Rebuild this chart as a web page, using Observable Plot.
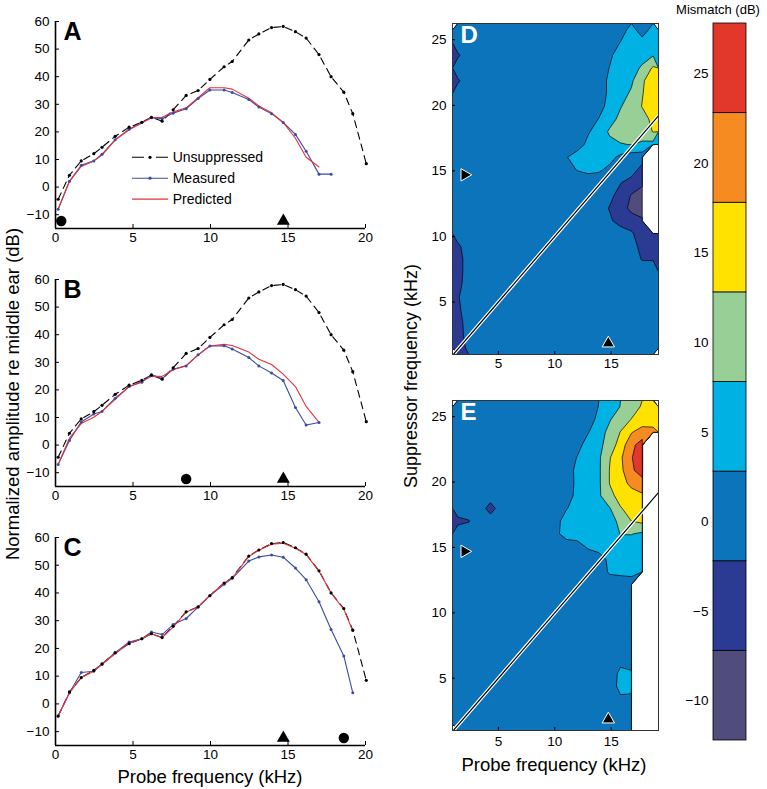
<!DOCTYPE html>
<html><head><meta charset="utf-8">
<script src="https://cdn.jsdelivr.net/npm/d3@7"></script>
<script src="https://cdn.jsdelivr.net/npm/@observablehq/plot@0.6"></script>
<style>
body{margin:0;background:#fff;}
#root{position:relative;width:767px;height:789px;font-family:"Liberation Sans",Arial,Helvetica,sans-serif;overflow:hidden;}
.lbl{position:absolute;white-space:nowrap;color:#000;}
</style></head><body><div id="root"></div>
<script>
const FONT = '"Liberation Sans", Arial, Helvetica, sans-serif';

// ---------- line panels (A, B, C) ----------
const probeFreq = [0.17, 0.9, 1.66, 2.47, 3.0, 3.85, 4.75, 5.57, 6.19, 6.88, 7.59, 8.43, 9.2, 9.96, 10.88, 11.4, 12.47, 13.12, 13.94, 14.69, 15.48, 16.17, 17.0, 17.78, 18.6, 19.18, 20.05];
const unsuppressed = [-4.4, 4.3, 9.5, 12.1, 14.4, 18.4, 21.7, 23.5, 25.3, 23.9, 28, 33.2, 35, 39, 43.6, 45.5, 53.3, 55.5, 57.8, 58.2, 56.3, 54, 48, 40, 34.4, 26.6, 8.5];
const measuredA = [-8, 2.1, 7.9, 9.5, 11.9, 17.2, 21, 23.4, 25.1, 24.8, 26.8, 28.4, 32.1, 35.2, 35.2, 34.3, 31.7, 29, 26.6, 23.4, 19.1, 13, 4.7, 4.7];
const predictedA = [-8, 2.1, 7.5, 9.5, 11.6, 17, 20.8, 23.2, 25.1, 25.3, 27.2, 28.7, 32.4, 36, 36, 35.5, 32.2, 29.4, 26.9, 23.4, 17.7, 10.8, 7.3];
const measuredB = [-7, 1.7, 8.4, 11.3, 12.2, 17, 21.2, 22.8, 25.6, 24.1, 27.5, 28.7, 32.7, 35.9, 36, 34.8, 31.7, 28.7, 26.1, 23.4, 13.6, 7.3, 8.2];
const predictedB = [-7, 2.5, 7.8, 10.1, 12.2, 16.6, 21.2, 23, 24.9, 24.9, 27.3, 28.8, 32.7, 35.9, 36.5, 36.1, 33.7, 31.1, 29.2, 25.7, 21.2, 14, 8.2];
const measuredC = [-4.4, 4, 11.3, 11.8, 14.3, 18.5, 22.3, 23.5, 25.9, 25, 28.6, 30.8, 34.9, 39.1, 43.1, 45.3, 51.5, 53, 53.7, 52.9, 49, 44.8, 36.8, 26.8, 17.3, 4];
const predictedC = [-4.4, 4, 9.5, 11.8, 14.3, 18.1, 21.9, 23.5, 25.3, 23.9, 27.7, 33.1, 34.9, 39.1, 43.6, 45.3, 53.2, 55.4, 57.6, 57.9, 56.1, 53.9, 47.8, 40, 34.1, 26.3];
const suppressorFreqs = [0.37, 8.43, 18.6];   // filled circles A, B, C
const probeMarkFreq = 14.7;                     // triangles
const markerLevel = -12.3;
const lineXTicks = [0, 5, 10, 15, 20];
const lineYTicks = [-10, 0, 10, 20, 30, 40, 50, 60];
const legendLabels = ["Unsuppressed", "Measured", "Predicted"];

// ---------- contour panels (D, E) ----------
// grid: 19 probe columns (0.93 .. 19.2 kHz), 26 suppressor rows listed top (26.2 kHz) to bottom (1 kHz)
const N = NaN;   // no data (drawn white)
const gridD = [
  [0,0,0,0,0,0,0,0,0,0,0,0,0,0,0,0,5,0,5],
  [0,0,0,0,0,0,0,0,0,0,0,0,0,0,0,3,5,5,6],
  [-2.7,0,0,0,0,0,0,0,0,0,0,0,0,0,2,5,5,6,7.5],
  [0,0,0,0,0,0,0,0,0,0,0,0,0,0,3,5,6,8.5,13.5],
  [-2.7,0,0,0,0,0,0,0,0,0,0,0,0,0,4,5,7,12,16],
  [0,0,0,0,0,0,0,0,0,0,0,0,0,0,4,6,8.5,12.5,16],
  [0,0,0,0,0,0,0,0,0,0,0,0,0,0.5,5,7.5,10,13,16],
  [0,0,0,0,0,0,0,0,0,0,0,0,0,3,6,9,11,11,14],
  [0,0,0,0,0,0,0,0,0,0,0,0,2.3,5,8.5,10,10,10,13],
  [0,0,0,0,0,0,0,0,0,0,0,0.5,4,5,6.5,7.5,8,7,6],
  [0,0,0,0,0,0,0,0,0,0,2.5,5,5,5,4.5,1.5,0,0,N],
  [0,0,0,0,0,0,0,0,0,0,1,3,4,3.5,1.5,0,0,-4,N],
  [0,0,0,0,0,0,0,0,0,0,0,0,0,0,0,-2,-4,-6,N],
  [0,0,0,0,0,0,0,0,0,0,0,0,0,0,-1,-4,-7.5,-10,N],
  [0,0,0,0,0,0,0,0,0,0,0,0,0,0,-2.5,-5,-8.5,-11,N],
  [0,0,0,0,0,0,0,0,0,0,0,0,0,0,-1.5,-4,-5,-6,N],
  [0,0,0,0,0,0,0,0,0,0,0,0,0,0,0,0,-1.5,-5,-4],
  [-3,0,0,0,0,0,0,0,0,0,0,0,0,0,0,0,0,-4,-4],
  [-4,0,0,0,0,0,0,0,0,0,0,0,0,0,0,0,0,-2.5,-2.5],
  [-4,0,0,0,0,0,0,0,0,0,0,0,0,0,0,0,0,0,0],
  [-3.5,0,0,0,0,0,0,0,0,0,0,0,0,0,0,0,0,0,0],
  [-2.5,0,0,0,0,0,0,0,0,0,0,0,0,0,0,0,0,0,0],
  [-3,0,0,0,0,0,0,0,0,0,0,0,0,0,0,0,0,0,0],
  [-4,0,0,0,0,0,0,0,0,0,0,0,0,0,0,0,0,0,0],
  [-4.5,0,0,0,0,0,0,0,0,0,0,0,0,0,0,0,0,0,0],
  [-5,-1,0,0,0,0,0,0,0,0,0,0,0,0,0,0,0,0,0]
];
const gridE = [
  [0,0,0,0,0,0,0,0,0,0,0,0,0,3,5,8,10,13.5,15],
  [0,0,0,0,0,0,0,0,0,0,0,0,0,4.5,7.5,10,13,15,16],
  [0,0,0,0,0,0,0,0,0,0,0,0,2.5,6,9,13,17.5,20,19],
  [0,0,0,0,0,0,0,0,0,0,0,1,5,6.5,10,15,21.5,25,N],
  [0,0,0,0,0,0,0,0,0,0,0,3,5,7,12.5,17,22.5,26,N],
  [0,0,0,0,0,0,0,0,0,0,0.5,4,5,7,13,16.5,22,25,N],
  [0,0,0,0,0,0,0,0,0,0,0,4,5,7,13,16,19,21,N],
  [0,0,0,0,0,0,0,0,0,0,0,4.5,5,7,11.5,14.5,16,17,N],
  [0,0,0,-4,0,0,0,0,0,0,2.5,5,5,5.5,7.5,12.5,14.5,15,N],
  [-3.2,-2.4,0,0,0,0,0,0,0,1,5,5,5,5,6,9,12.8,14,N],
  [0,0,0,0,0,0,0,0,0,1.5,5,5,5,5,5,8,8,7,N],
  [0,0,0,0,0,0,0,0,0,0,0,1,3.5,5,5,5.5,5.5,4.5,N],
  [0,0,0,0,0,0,0,0,0,0,0,0,0,0.5,4,5,5,4,N],
  [0,0,0,0,0,0,0,0,0,0,0,0,0,0,3.5,4,4.5,3,N],
  [0,0,0,0,0,0,0,0,0,0,0,0,0,0,0,0,0,N,N],
  [0,0,0,0,0,0,0,0,0,0,0,0,0,0,0,0,0,N,N],
  [0,0,0,0,0,0,0,0,0,0,0,0,0,0,0,0,0,N,N],
  [0,0,0,0,0,0,0,0,0,0,0,0,0,0,0,0,0,N,N],
  [0,0,0,0,0,0,0,0,0,0,0,0,0,0,0,0,0,N,N],
  [0,0,0,0,0,0,0,0,0,0,0,0,0,0,0,0,0,N,N],
  [0,0,0,0,0,0,0,0,0,0,0,0,0,0,0,1.5,0.5,N,N],
  [0,0,0,0,0,0,0,0,0,0,0,0,0,0,0,4,3.5,N,N],
  [0,0,0,0,0,0,0,0,0,0,0,0,0,0,0,4.5,4,N,N],
  [0,0,0,0,0,0,0,0,0,0,0,0,0,0,0,2,2,N,N],
  [0,0,0,0,0,0,0,0,0,0,0,0,0,0,0,0,0,N,N],
  [0,0,0,0,0,0,0,0,0,0,0,0,0,0,0,0,0,N,N]
];
const probeExtent = [0.93, 19.2];
const suppExtent = [1.0, 26.24];
const levels = [-12.2, -7.2, -2.2, 2.8, 7.8, 12.8, 17.8, 22.8];
const levelTop = 27.8;
const levelColors = ["#514c7e", "#2b3a92", "#0b74bb", "#00b1e3", "#97cf97", "#ffe200", "#f68b21", "#e2382b"];
const colorbarTicks = [-10, -5, 0, 5, 10, 15, 20, 25];
const contourXTicks = [5, 10, 15];
const contourYTicks = [5, 10, 15, 20, 25];
const diagFreq = [1.0, 19.2];
const triMarks = [{x: 2.0, y: 14.7, rot: 90}, {x: 14.75, y: 1.85, rot: 0}];

const BLUE = "#3b4ca2", RED = "#e5323c";
const NO_DATA = -1000;   // below every contour level, so left unfilled
const root = document.getElementById("root");

function baseStyle(left, top) {
  return {position: "absolute", left: left + "px", top: top + "px", fontFamily: FONT, fontSize: "13.5px",
          color: "black", background: "transparent", overflow: "visible"};
}
const minusFmt = d => d < 0 ? "\u2212" + (-d) : String(d);

function linePanel({meas, pred, circle, letter, top, mt, fh, mb}) {
  const un = probeFreq.map((f, i) => ({f, v: unsuppressed[i]}));
  const me = meas.map((v, i) => ({f: probeFreq[i], v}));
  const pr = pred.map((v, i) => ({f: probeFreq[i], v}));
  return Plot.plot({
    width: 380, height: mt + fh + mb,
    marginLeft: 55, marginRight: 15, marginTop: mt, marginBottom: mb,
    x: {domain: [0, 20]}, y: {domain: [-15, 60]},
    style: baseStyle(0, top),
    marks: [
      Plot.ruleX([0], {stroke: "black", strokeWidth: 1.6}),
      Plot.ruleY([-15], {stroke: "black", strokeWidth: 1.6}),
      Plot.axisY(lineYTicks, {tickSize: 4, tickPadding: 6, dx: 4, label: null, tickFormat: minusFmt}),
      Plot.axisX(lineXTicks, {tickSize: 4, tickPadding: 4, dy: -4, label: null}),
      Plot.line(un, {x: "f", y: "v", stroke: "black", strokeWidth: 1.1, strokeDasharray: "7,5"}),
      Plot.line(me, {x: "f", y: "v", stroke: BLUE, strokeWidth: 1.1}),
      Plot.line(pr, {x: "f", y: "v", stroke: RED, strokeWidth: 1.1}),
      Plot.dot(me, {x: "f", y: "v", r: 1.5, fill: BLUE}),
      Plot.dot(un, {x: "f", y: "v", r: 1.6, fill: "black"}),
      Plot.dot([circle], {x: d => d, y: () => markerLevel, r: 5.2, fill: "black"}),
      Plot.dot([probeMarkFreq], {x: d => d, y: () => markerLevel, symbol: "triangle", r: 4.8, fill: "black"}),
      Plot.text([letter], {text: d => d, frameAnchor: "top-left", dx: 8, dy: 1, fontSize: 25, fontWeight: "bold", textAnchor: "start", lineAnchor: "top", fill: "black"})
    ]
  });
}

function contourPanel({grid, letter, left, top, mt, fh, mb, tickPad}) {
  const values = grid.flat().map(v => Number.isNaN(v) ? NO_DATA : v);
  const diag = diagFreq.map(f => ({f}));
  return Plot.plot({
    width: 275, height: mt + fh + mb,
    marginLeft: 62, marginRight: 7, marginTop: mt, marginBottom: mb,
    x: {domain: probeExtent}, y: {domain: suppExtent},
    color: {type: "ordinal", domain: levels, range: levelColors},
    style: baseStyle(left, top),
    marks: [
      Plot.contour(values, {width: grid[0].length, height: grid.length,
        x1: probeExtent[0], x2: probeExtent[1], y1: suppExtent[1], y2: suppExtent[0],
        thresholds: levels, fill: Plot.identity, stroke: "black", strokeWidth: 0.7}),
      Plot.line(diag, {x: "f", y: "f", stroke: "white", strokeWidth: 3.6, clip: true}),
      Plot.line(diag, {x: "f", y: "f", stroke: "black", strokeWidth: 1.2, clip: true}),
      Plot.dot(triMarks, {x: "x", y: "y", rotate: "rot", symbol: "triangle", r: 4.6, fill: "black", stroke: "white", strokeWidth: 1}),
      Plot.frame({stroke: "#333", strokeWidth: 1}),
      Plot.axisY(contourYTicks, {tickSize: 3, tickPadding: 6, dx: 3, label: null}),
      Plot.axisX(contourXTicks, {tickSize: 3, tickPadding: tickPad, dy: -3, label: null}),
      Plot.text([letter], {text: d => d, frameAnchor: "top-left", dx: 8, dy: 2, fontSize: 24, fontWeight: "bold", textAnchor: "start", lineAnchor: "top", fill: "white"})
    ]
  });
}

function colorbar() {
  const bands = levels.map((lo, i) => ({lo, hi: i + 1 < levels.length ? levels[i + 1] : levelTop}));
  return Plot.plot({
    width: 95, height: 789,
    marginLeft: 48, marginRight: 14, marginTop: 23, marginBottom: 49,
    x: {domain: [0, 1], axis: null}, y: {domain: [levels[0], levelTop]},
    color: {type: "ordinal", domain: levels, range: levelColors},
    style: baseStyle(665, 0),
    marks: [
      Plot.rect(bands, {x1: 0, x2: 1, y1: "lo", y2: "hi", fill: "lo", stroke: "black", strokeWidth: 0.8}),
      Plot.axisY(colorbarTicks, {tickSize: 0, tickPadding: 5, label: null, tickFormat: minusFmt})
    ]
  });
}

root.appendChild(linePanel({meas: measuredA, pred: predictedA, circle: suppressorFreqs[0], letter: "A", top: 0, mt: 21, fh: 207, mb: 30}));
root.appendChild(linePanel({meas: measuredB, pred: predictedB, circle: suppressorFreqs[1], letter: "B", top: 258, mt: 21, fh: 207, mb: 30}));
root.appendChild(linePanel({meas: measuredC, pred: predictedC, circle: suppressorFreqs[2], letter: "C", top: 516, mt: 21, fh: 208, mb: 30}));
root.appendChild(contourPanel({grid: gridD, letter: "D", left: 390, top: 0, mt: 23, fh: 331, mb: 25, tickPad: 4}));
root.appendChild(contourPanel({grid: gridE, letter: "E", left: 390, top: 379, mt: 21, fh: 330, mb: 30, tickPad: 6}));
root.appendChild(colorbar());

// legend of panel A
const ns = "http://www.w3.org/2000/svg";
const lg = document.createElementNS(ns, "svg");
lg.setAttribute("width", 130); lg.setAttribute("height", 70);
lg.style.cssText = "position:absolute;left:125px;top:145px;overflow:visible;";
const legendStyles = [
  {stroke: "black", dash: "12,12", dot: "black"},
  {stroke: BLUE, dash: null, dot: BLUE},
  {stroke: RED, dash: null, dot: null}
];
legendLabels.forEach((name, i) => {
  const y = 12.3 + i * 20.9;
  const s = legendStyles[i];
  const ln = document.createElementNS(ns, "line");
  ln.setAttribute("x1", 7); ln.setAttribute("x2", 43); ln.setAttribute("y1", y); ln.setAttribute("y2", y);
  ln.setAttribute("stroke", s.stroke); ln.setAttribute("stroke-width", 1.1);
  if (s.dash) ln.setAttribute("stroke-dasharray", s.dash);
  lg.appendChild(ln);
  if (s.dot) {
    const c = document.createElementNS(ns, "circle");
    c.setAttribute("cx", 25); c.setAttribute("cy", y); c.setAttribute("r", 1.6); c.setAttribute("fill", s.dot);
    lg.appendChild(c);
  }
  const t = document.createElementNS(ns, "text");
  t.setAttribute("x", 47.7); t.setAttribute("y", y); t.setAttribute("dy", "0.35em");
  t.setAttribute("font-size", 14); t.setAttribute("font-family", FONT);
  t.textContent = name;
  lg.appendChild(t);
});
root.appendChild(lg);

// titles
function label(text, cx, cy, size, rotate) {
  const d = document.createElement("div");
  d.className = "lbl";
  d.textContent = text;
  d.style.left = cx + "px"; d.style.top = cy + "px"; d.style.fontSize = size + "px";
  d.style.transform = "translate(-50%,-50%)" + (rotate ? " rotate(-90deg)" : "");
  root.appendChild(d);
}
label("Probe frequency (kHz)", 210, 777, 18.5, false);
label("Probe frequency (kHz)", 554, 765, 18.5, false);
label("Normalized amplitude re middle ear (dB)", 13, 394, 18.5, true);
label("Suppressor frequency (kHz)", 411, 376, 18, true);
label("Mismatch (dB)", 718, 9, 13, false);
</script></body></html>
